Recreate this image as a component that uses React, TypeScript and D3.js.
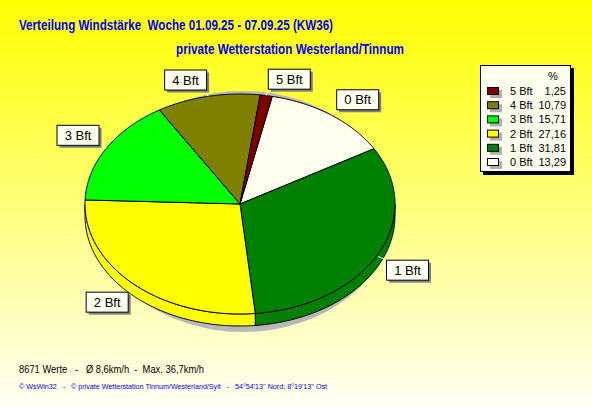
import * as d3 from "d3";

// values (percent per Beaufort class, clockwise from top)
const classes = ["0 Bft", "1 Bft", "2 Bft", "3 Bft", "4 Bft", "5 Bft"];
const shares = [13.29, 31.81, 27.16, 15.71, 10.79, 1.25];
const sliceColors = ["#FFFFF0", "#008000", "#FFFF00", "#00FF00", "#808000", "#800000"];

const titleLine1 = "Verteilung Windstärke  Woche 01.09.25 - 07.09.25 (KW36)";
const titleLine2 = "private Wetterstation Westerland/Tinnum";
const statsLine = "8671 Werte   -   Ø 8,6km/h  -  Max. 36,7km/h";
const footerLine = "© WsWin32   -   © private Wetterstation Tinnum/Westerland/Sylt   -   54°54'13'' Nord; 8°19'13'' Ost";

type Slice = { name: string; value: number; color: string };
const slices: Slice[] = classes.map((name, i) => ({ name, value: shares[i], color: sliceColors[i] }));

const W = 592;
const H = 407;
const cx = 240;
const cy = 204;
const rx = 155;
const ry = 110;
const depth = 12;
const startAngle = (12 * Math.PI) / 180;
const font = "'Liberation Sans', Arial, sans-serif";

const pt = (a: number, dy = 0): [number, number] => [cx + rx * Math.sin(a), cy - ry * Math.cos(a) + dy];

function arcPoints(a0: number, a1: number, dy = 0) {
  const n = Math.max(2, Math.ceil(Math.abs(a1 - a0) * 80));
  const out: [number, number][] = [];
  for (let i = 0; i <= n; i++) out.push(pt(a0 + ((a1 - a0) * i) / n, dy));
  return out;
}

function topPath(a0: number, a1: number) {
  const p = d3.path();
  p.moveTo(cx, cy);
  arcPoints(a0, a1).forEach(([x, y]) => p.lineTo(x, y));
  p.closePath();
  return p.toString();
}

// visible rim only on the front half of the ellipse
function sidePath(a0: number, a1: number) {
  const s = Math.max(a0, Math.PI / 2);
  const e = Math.min(a1, (3 * Math.PI) / 2);
  if (s >= e) return null;
  const p = d3.path();
  const top = arcPoints(s, e);
  const bot = arcPoints(e, s, depth);
  p.moveTo(top[0][0], top[0][1]);
  top.forEach(([x, y]) => p.lineTo(x, y));
  bot.forEach(([x, y]) => p.lineTo(x, y));
  p.closePath();
  return p.toString();
}

export default function App() {
  const pie = d3
    .pie<Slice>()
    .sort(null)
    .value(d => d.value)
    .startAngle(startAngle)
    .endAngle(startAngle + 2 * Math.PI);
  const arcs = pie(slices);

  const legendRows = [...arcs].reverse();
  const boxW = 42;
  const boxH = 20;

  return (
    <svg
      width={W}
      height={H}
      style={{ position: "fixed", left: 0, top: 0, display: "block" }}
      fontFamily={font}
    >
      <defs>
        <linearGradient id="bg" x1="0" y1="0" x2="0" y2="1">
          <stop offset="0" stopColor="#FFFF00" />
          <stop offset="1" stopColor="#FFFFF4" />
        </linearGradient>
      </defs>
      <rect width={W} height={H} fill="url(#bg)" />

      <text x={19} y={30} fill="#0000F0" fontWeight="bold" fontSize={14} textLength={314} lengthAdjust="spacingAndGlyphs" style={{ whiteSpace: "pre" }}>
        {titleLine1}
      </text>
      <text x={176} y={54} fill="#0000F0" fontWeight="bold" fontSize={14} textLength={228} lengthAdjust="spacingAndGlyphs">
        {titleLine2}
      </text>

      {/* shadow */}
      <ellipse cx={243} cy={211.5} rx={150} ry={120.5} fill="#B8B8B8" />

      {/* sides */}
      {arcs.map((a, i) => {
        const d = sidePath(a.startAngle, a.endAngle);
        return d ? <path key={"s" + i} d={d} fill={a.data.color} stroke="#000" strokeWidth={1} strokeLinejoin="round" /> : null;
      })}

      {/* top face */}
      {arcs.map((a, i) => (
        <path key={"t" + i} d={topPath(a.startAngle, a.endAngle)} fill={a.data.color} stroke="#000" strokeWidth={1} strokeLinejoin="round" />
      ))}

      {/* labels */}
      {arcs.map((a, i) => {
        const m = (a.startAngle + a.endAngle) / 2;
        const s = Math.sin(m);
        const c = Math.cos(m);
        const front = c < 0;
        const [ex, ey] = pt(m, front ? depth * 0.2 : 0);
        const px = ex + 9 * s;
        const py = ey - 7 * c;
        const bx = s >= 0 ? px : px - boxW;
        const by = c >= 0 ? py - boxH : py;
        return (
          <g key={"l" + i}>
            <line x1={ex} y1={ey} x2={px} y2={py} stroke="#FFFFE8" strokeWidth={1} />
            <rect x={bx + 3} y={by + 3} width={boxW} height={boxH} fill="#808080" />
            <rect x={bx + 0.5} y={by + 0.5} width={boxW} height={boxH} fill="#FFFFF0" stroke="#000" strokeWidth={1} />
            <text x={bx + boxW / 2 + 0.5} y={by + 15} textAnchor="middle" fontSize={13} fill="#000">
              {a.data.name}
            </text>
          </g>
        );
      })}

      {/* legend */}
      <g>
        <rect x={483} y={68} width={91} height={107} fill="#000" />
        <rect x={480.5} y={65.5} width={90} height={106} fill="#FFFFF0" stroke="#000" strokeWidth={1} />
        <text x={553} y={80} textAnchor="middle" fontSize={11} fill="#000">%</text>
        {legendRows.map((a, i) => {
          const y = 91 + i * 14.2;
          return (
            <g key={"g" + i}>
              <rect x={490} y={y - 1} width={12} height={8} fill="#B0B0B0" />
              <rect x={487.5} y={y - 3.5} width={11} height={7} fill={a.data.color} stroke="#000" strokeWidth={1} />
              <text x={510} y={y + 4} fontSize={11} fill="#000">{a.data.name}</text>
              <text x={566} y={y + 4} fontSize={11} fill="#000" textAnchor="end">
                {a.data.value.toFixed(2).replace(".", ",")}
              </text>
            </g>
          );
        })}
      </g>

      <text x={19} y={373} fontSize={11} fill="#000" textLength={185} lengthAdjust="spacingAndGlyphs" style={{ whiteSpace: "pre" }}>
        {statsLine}
      </text>
      <text x={19} y={389} fontSize={8} fill="#0000F0" textLength={308} lengthAdjust="spacingAndGlyphs" style={{ whiteSpace: "pre" }}>
        {footerLine}
      </text>
    </svg>
  );
}
